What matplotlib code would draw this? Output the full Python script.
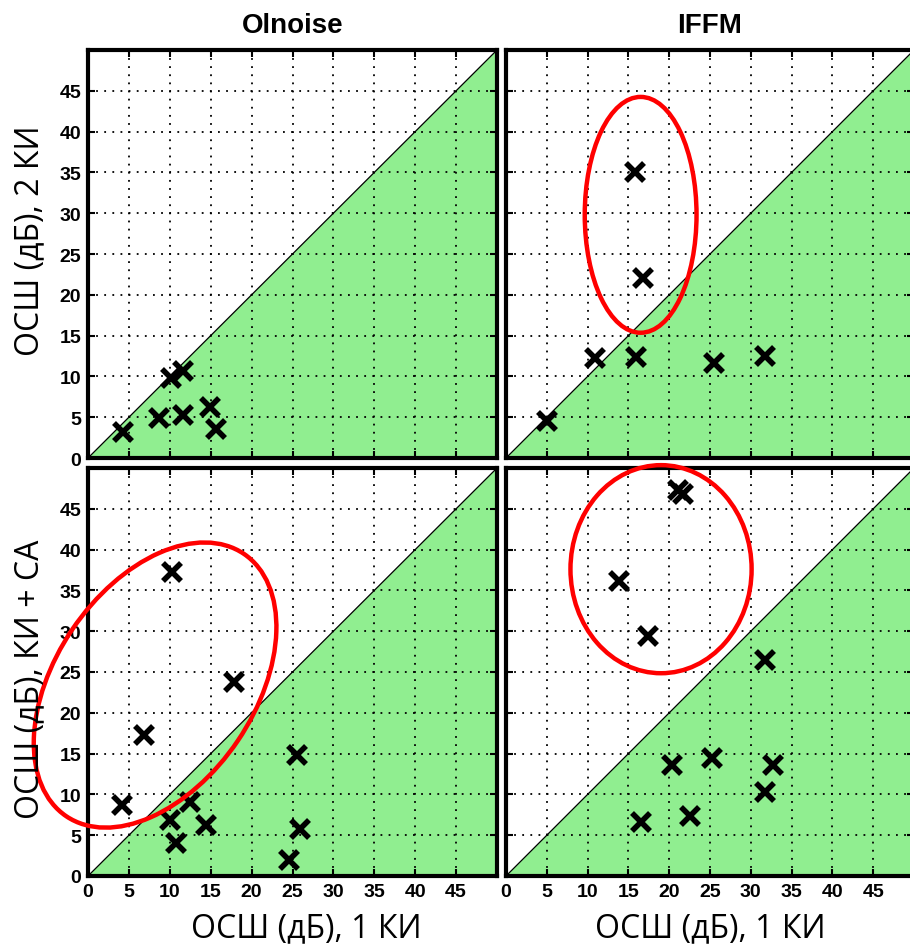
import numpy as np
import matplotlib.pyplot as plt
from matplotlib.patches import Ellipse, Polygon

# данные: ОСШ 1 КИ (x) против ОСШ 2 КИ / КИ + СА (y)
olnoise_x_2ki = [4.3, 8.7, 10.2, 11.6, 11.6, 14.9, 15.7]
olnoise_y_2ki = [3.2, 4.9, 9.8, 10.7, 5.3, 6.3, 3.5]

iffm_x_2ki = [5.0, 10.9, 15.9, 15.8, 16.8, 25.5, 31.8]
iffm_y_2ki = [4.5, 12.3, 12.4, 35.1, 22.0, 11.6, 12.5]

olnoise_x_sa = [4.2, 6.9, 10.3, 17.8, 10.0, 10.7, 12.5, 14.4, 25.5, 25.9, 24.6]
olnoise_y_sa = [8.7, 17.3, 37.3, 23.8, 6.9, 4.0, 9.1, 6.3, 14.8, 5.7, 1.9]

iffm_x_sa = [21.1, 21.7, 13.8, 17.4, 31.8, 20.4, 25.2, 32.7, 31.8, 22.6, 16.6]
iffm_y_sa = [47.3, 46.8, 36.1, 29.4, 26.5, 13.6, 14.4, 13.6, 10.3, 7.4, 6.6]

titles = ['Olnoise', 'IFFM']
ticks = list(range(0, 50, 5))
lim = 50

W, H = 910, 945
fig = plt.figure(figsize=(W / 100, H / 100), dpi=100)


def make_ax(l, b, w, h):
    return fig.add_axes([l / W, 1 - b / H, w / W, h / H])


ax_tl = make_ax(88, 459, 409, 408)
ax_tr = make_ax(506, 459, 408, 408)
ax_bl = make_ax(88, 877, 409, 408)
ax_br = make_ax(506, 877, 408, 408)

panels = [
    (ax_tl, olnoise_x_2ki, olnoise_y_2ki),
    (ax_tr, iffm_x_2ki, iffm_y_2ki),
    (ax_bl, olnoise_x_sa, olnoise_y_sa),
    (ax_br, iffm_x_sa, iffm_y_sa),
]

for ax, xs, ys in panels:
    ax.set_xlim(0, lim)
    ax.set_ylim(0, lim)
    # зона ниже диагонали
    ax.add_patch(Polygon([[0, 0], [lim, 0], [lim, lim]], closed=True,
                         facecolor='#90ee90', edgecolor='none', zorder=1))
    ax.plot([0, lim], [0, lim], color='black', lw=0.9, zorder=2)
    ax.plot(xs, ys, ls='none', marker='x', ms=12.5, mew=4, color='black', zorder=4)
    ax.set_xticks(ticks)
    ax.set_yticks(ticks)
    ax.grid(True, color='black', ls=(0, (1, 3.5)), lw=1.3)
    ax.set_axisbelow(False)
    ax.tick_params(direction='in', length=5, width=1.5, top=True, right=True,
                   labelsize=14, pad=5)
    for lab in ax.get_xticklabels() + ax.get_yticklabels():
        lab.set_fontfamily('Liberation Sans')
        lab.set_fontweight('bold')
    for s in ax.spines.values():
        s.set_linewidth(3)

for ax in (ax_tl, ax_tr):
    ax.tick_params(labelbottom=False)
for ax in (ax_tr, ax_br):
    ax.tick_params(labelleft=False)

for ax, t in zip((ax_tl, ax_tr), titles):
    ax.set_title(t, fontsize=20, fontweight='bold', family='Liberation Sans', pad=13)

# красные овалы
ell_kw = dict(fill=False, edgecolor='red', lw=3.2, zorder=5, clip_on=False)
ax_tr.add_patch(Ellipse((16.5, 29.8), 13.7, 28.9, **ell_kw))
ax_br.add_patch(Ellipse((19.0, 37.6), 22.2, 25.5, **ell_kw))
ax_bl.add_patch(Ellipse((8.2, 23.4), 38.8, 24.4, angle=56, **ell_kw))

lab_font = ['Open Sans', 'DejaVu Sans']
fig.text(30 / W, 1 - 241 / H, 'ОСШ (дБ), 2 КИ', rotation=90, ha='center', va='center',
         fontsize=23, family=lab_font)
fig.text(30 / W, 1 - 679 / H, 'ОСШ (дБ), КИ + СА', rotation=90, ha='center', va='center',
         fontsize=23, family=lab_font, zorder=1)
fig.text(306 / W, 1 - 937 / H, 'ОСШ (дБ), 1 КИ', ha='center', va='baseline',
         fontsize=23, family=lab_font)
fig.text(710 / W, 1 - 937 / H, 'ОСШ (дБ), 1 КИ', ha='center', va='baseline',
         fontsize=23, family=lab_font)

fig.savefig('out.png', dpi=100)
